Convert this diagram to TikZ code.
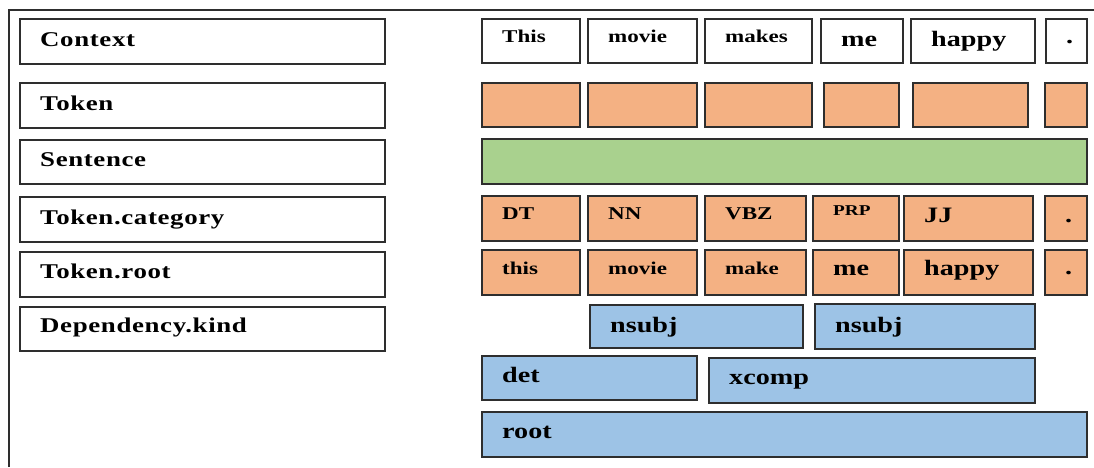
\documentclass[tikz,border=0pt]{standalone}
\usepackage{fontspec}
\newfontfamily\cellfont{Liberation Serif}[FakeStretch=1.28]
\newfontfamily\rowfont{Liberation Serif}[FakeStretch=1.28,LetterSpace=3]
\definecolor{tokorange}{HTML}{F4B183}
\definecolor{sentgreen}{HTML}{A9D18E}
\definecolor{depblue}{HTML}{9DC3E6}
\definecolor{edge}{HTML}{2E2E2E}
\tikzset{
  cell/.style={draw=edge, line width=1.6pt, rectangle, inner sep=0pt, anchor=north west},
  txt/.style={anchor=base west, inner sep=0pt, text=black},
}
\begin{document}
\begin{tikzpicture}[x=1pt,y=-1pt]
\useasboundingbox (0,0) rectangle (1094,467);
% frame
\draw[edge, line width=2pt] (9,467) -- (9,10) -- (1094,10);

% row names
\foreach \n/\ya/\yb/\base/\t in {1/18/63/46/Context, 2/82/127/110/Token, 3/139/183/166/Sentence, 4/196/241/224/Token.category, 5/251/296/278/Token.root, 6/306/350/332/Dependency.kind}
{
\node[cell, fill=white, minimum width=365pt, minimum height={(\yb-\ya)*1pt}] (lab\n) at (19,\ya) {};
\node[txt, font=\rowfont\bfseries\fontsize{21}{21}\selectfont] (labt\n) at (40,\base) {\t};
}

% context words
\foreach \n/\xa/\xb/\s/\base/\t in {1/481/579/18/42/This, 2/587/696/18/42/movie, 3/704/811/18/42/makes, 4/820/902/22/46/me, 5/910/1034/22/46/happy, 6/1045/1086/22/43/.}
{
\node[cell, fill=white, minimum width={(\xb-\xa)*1pt}, minimum height=44pt] (word\n) at (\xa,18) {};
\node[txt, font=\cellfont\bfseries\fontsize{\s}{\s}\selectfont] (wordt\n) at (\xa+21,\base) {\t};
}

% tokens
\foreach \n/\xa/\xb in {1/481/579, 2/587/696, 3/704/811, 4/823/898, 5/912/1027, 6/1044/1086}
\node[cell, fill=tokorange, minimum width={(\xb-\xa)*1pt}, minimum height=44pt] (tok\n) at (\xa,82) {};

% sentence
\node[cell, fill=sentgreen, minimum width=605pt, minimum height=45pt] (sent) at (481,138) {};

% token.category
\foreach \n/\xa/\xb/\s/\base/\t in {1/481/579/18/219/DT, 2/587/696/18/219/NN, 3/704/805/18/219/VBZ, 4/812/898/15/215/PRP, 5/903/1032/22/222/JJ, 6/1044/1086/22/222/.}
{
\node[cell, fill=tokorange, minimum width={(\xb-\xa)*1pt}, minimum height=45pt] (cat\n) at (\xa,195) {};
\node[txt, font=\cellfont\bfseries\fontsize{\s}{\s}\selectfont] (catt\n) at (\xa+21,\base) {\t};
}

% token.root
\foreach \n/\xa/\xb/\s/\base/\t in {1/481/579/18/274/this, 2/587/696/18/274/movie, 3/704/805/18/274/make, 4/812/898/22/275/me, 5/903/1032/22/275/happy, 6/1044/1086/22/274/.}
{
\node[cell, fill=tokorange, minimum width={(\xb-\xa)*1pt}, minimum height=45pt] (root\n) at (\xa,249) {};
\node[txt, font=\cellfont\bfseries\fontsize{\s}{\s}\selectfont] (roott\n) at (\xa+21,\base) {\t};
}

% dependency.kind
\foreach \n/\xa/\ya/\xb/\yb/\base/\t in {nsa/589/304/802/347/332/nsubj, nsb/814/303/1034/348/332/nsubj, det/481/355/696/399/382/det, xc/708/357/1034/402/384/xcomp, rt/481/411/1086/456/438/root}
{
\node[cell, fill=depblue, minimum width={(\xb-\xa)*1pt}, minimum height={(\yb-\ya)*1pt}] (dep\n) at (\xa,\ya) {};
\node[txt, font=\cellfont\bfseries\fontsize{22}{22}\selectfont] (dept\n) at (\xa+21,\base) {\t};
}
\end{tikzpicture}
\end{document}
